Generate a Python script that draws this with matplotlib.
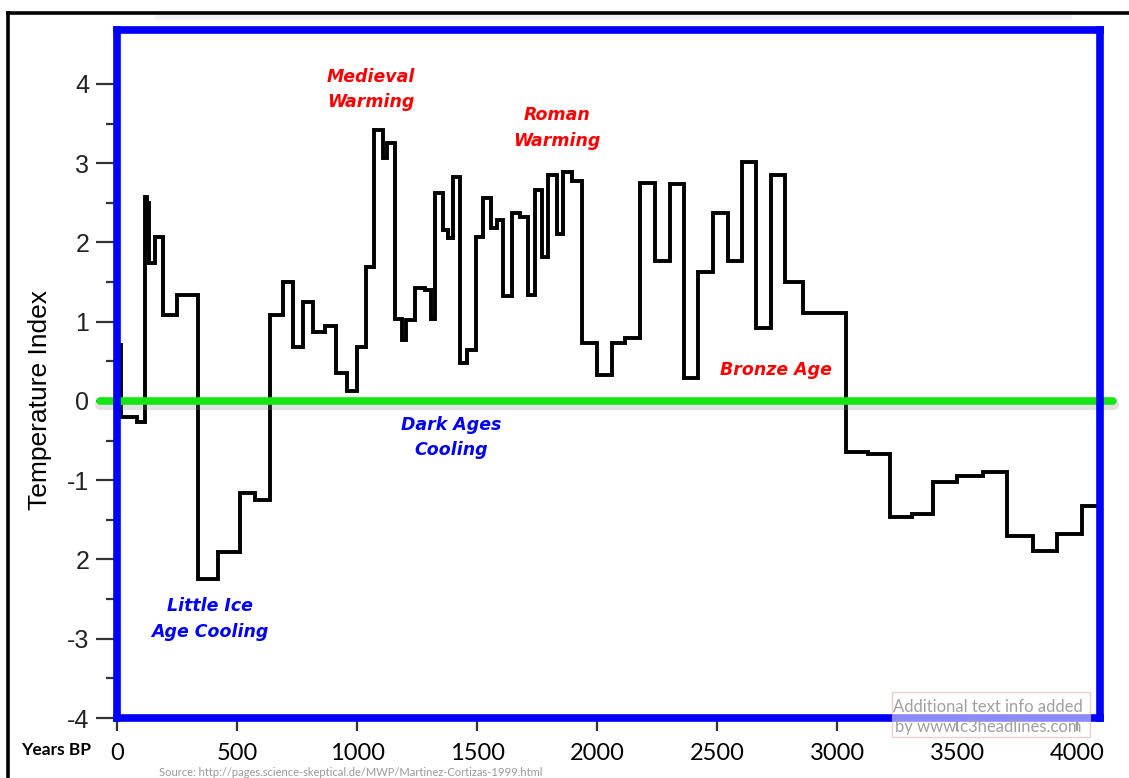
import matplotlib.pyplot as plt
from matplotlib.lines import Line2D
from matplotlib.patches import Rectangle

# step edges (years BP) and temperature index
edges = [0, 17, 82, 117, 123, 127, 133, 158, 193, 249,
         339, 422, 512, 575, 637, 693, 732, 776, 818, 866,
         912, 957, 998, 1036, 1070, 1109, 1125, 1158, 1186, 1204,
         1241, 1283, 1307, 1324, 1359, 1380, 1401, 1429, 1457, 1494,
         1526, 1556, 1581, 1609, 1644, 1679, 1713, 1741, 1769, 1796,
         1831, 1859, 1894, 1935, 1998, 2060, 2116, 2178, 2241, 2303,
         2362, 2421, 2484, 2544, 2602, 2660, 2723, 2782, 2858, 3036,
         3129, 3220, 3310, 3400, 3497, 3606, 3706, 3814, 3914, 4018,
         4090]
temps = [0.71, -0.20, -0.26, 2.57, 1.9, 2.5, 1.74, 2.07, 1.08, 1.34,
         -2.25, -1.90, -1.16, -1.25, 1.08, 1.50, 0.68, 1.25, 0.87, 0.94,
         0.35, 0.12, 0.68, 1.69, 3.42, 3.06, 3.25, 1.04, 0.77, 1.02,
         1.43, 1.40, 1.04, 2.62, 2.16, 2.05, 2.83, 0.48, 0.64, 2.07,
         2.56, 2.18, 2.28, 1.32, 2.37, 2.32, 1.34, 2.66, 1.82, 2.85,
         2.11, 2.89, 2.77, 0.73, 0.33, 0.73, 0.79, 2.75, 1.76, 2.74,
         0.29, 1.63, 2.37, 1.76, 3.02, 0.92, 2.85, 1.50, 1.11, -0.64,
         -0.67, -1.46, -1.42, -1.02, -0.95, -0.90, -1.71, -1.89, -1.68, -1.33]

xticks = [0, 500, 1000, 1500, 2000, 2500, 3000, 3500, 4000]
yticks = [-4, -3, -2, -1, 0, 1, 2, 3, 4]
ylabels = ['-4', '-3', '2', '-1', '0', '1', '2', '3', '4']

# period labels: text, x, y, colour
periods = [
    ("Medieval\nWarming", 1058, 3.93, 'red'),
    ("Roman\nWarming", 1833, 3.44, 'red'),
    ("Bronze Age", 2745, 0.39, 'red'),
    ("Dark Ages\nCooling", 1391, -0.46, 'blue'),
    ("Little Ice\nAge Cooling", 387, -2.75, 'blue'),
]

W, H = 1129, 778
fig = plt.figure(figsize=(W / 100, H / 100), dpi=100)
ax = fig.add_axes([117 / W, 1 - 718 / H, (1100 - 117) / W, (718 - 30) / H])
ax.set_xlim(0, 4094)
ax.set_ylim(-4.0, 4.68)

ax.stairs(temps, edges, baseline=None, color='black', lw=2.8, zorder=3)

# green zero line with a soft shadow, running past the frame
ax.plot([-71, 4148], [-0.04, -0.04], color='#888888', alpha=0.25, lw=8,
        solid_capstyle='round', clip_on=False, zorder=4)
ax.plot([-71, 4148], [0, 0], color='#14e614', lw=5.5,
        solid_capstyle='round', clip_on=False, zorder=5)

for txt, x, y, c in periods:
    ax.text(x, y, txt, color=c, ha='center', va='center', fontsize=12.5,
            fontweight='bold', fontstyle='italic', family='DejaVu Sans',
            linespacing=1.55, zorder=6)

for s in ax.spines.values():
    s.set_color('#0000ff')
    s.set_linewidth(5.5)
    s.set_zorder(7)

ax.set_xticks(xticks)
ax.set_xticklabels([str(t) for t in xticks], family='Lato', fontsize=17)
ax.set_yticks(yticks)
ax.set_yticklabels(ylabels, family='Liberation Sans', fontsize=18, color='#222222')
ax.set_yticks([-3.5, -2.5, -1.5, -0.5, 0.5, 1.5, 2.5, 3.5], minor=True)
ax.tick_params(axis='y', which='major', length=15, width=1.6, color='#333333', pad=5)
ax.tick_params(axis='y', which='minor', length=8, width=1.6, color='#333333')
ax.tick_params(axis='x', which='major', length=9, width=1.6, color='#333333', pad=9)

fig.text(40 / W, 1 - 400 / H, "Temperature Index", rotation=90, ha='center',
         va='center', fontsize=19, family='Liberation Sans')
fig.text(56 / W, 1 - 750 / H, "Years BP", ha='center', va='center',
         fontsize=12.5, fontweight='bold', family='Lato')
fig.text(351 / W, 1 - 772 / H,
         "Source: http://pages.science-skeptical.de/MWP/Martinez-Cortizas-1999.html",
         ha='center', va='center', fontsize=8, color='#999999', family='Lato')

# watermark box
fig.add_artist(Rectangle((892 / W, 1 - 737 / H), 198 / W, 45 / H,
                         transform=fig.transFigure, facecolor='white', alpha=0.55,
                         edgecolor='#e0a8a8', lw=1, zorder=10))
fig.text(988 / W, 1 - 707 / H, "Additional text info added", ha='center',
         va='center', fontsize=12, color='#a0a0a0', family='Lato', zorder=11)
fig.text(988 / W, 1 - 727 / H, "by www.c3headlines.com", ha='center',
         va='center', fontsize=12, color='#a0a0a0', family='Lato', zorder=11)

# black screenshot frame (top and left)
fig.add_artist(Line2D([158 / W, 1069 / W], [1 - 17 / H, 1 - 17 / H],
                      transform=fig.transFigure, color='#999999', alpha=0.12, lw=4))
fig.add_artist(Line2D([8 / W, 1], [1 - 13 / H, 1 - 13 / H],
                      transform=fig.transFigure, color='black', lw=2.6))
fig.add_artist(Line2D([8 / W, 8 / W], [1 - 13 / H, 0],
                      transform=fig.transFigure, color='black', lw=2.6))

fig.savefig('out.png', dpi=100)
